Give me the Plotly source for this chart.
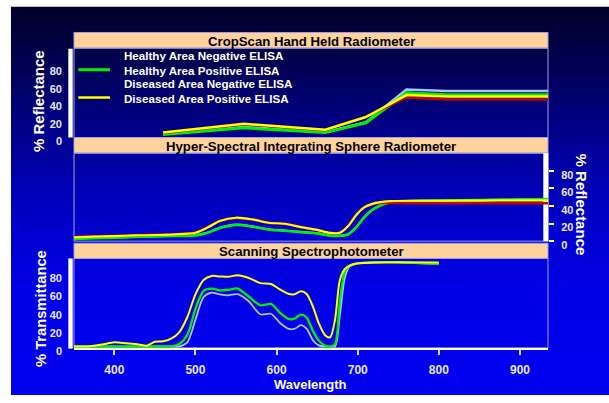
import plotly.graph_objects as go

W, H = 609, 403

# ---------------- data ----------------
# Panel 1: CropScan Hand Held Radiometer (% reflectance)
cropscan_wl = [460, 560, 660, 710, 760, 810, 950]
cropscan_healthy_neg = [4.0, 12.0, 6.0, 17.5, 54.8, 53.0, 53.0]
cropscan_healthy_pos = [3.4, 11.0, 5.6, 16.8, 51.0, 48.6, 48.6]
cropscan_diseased_neg = [5.0, 15.0, 8.3, 23.5, 45.6, 43.3, 43.3]
cropscan_diseased_pos = [5.6, 15.6, 8.8, 23.3, 48.3, 46.7, 46.7]

# Panel 2: Hyper-Spectral Integrating Sphere Radiometer (% reflectance)
hyper_wl = [350, 375, 400, 425, 450, 475, 500, 515, 530, 550, 570, 590, 610, 630,
            650, 665, 678, 688, 698, 708, 718, 728, 740, 760, 800, 850, 900, 935]
hyper_healthy_neg = [3.0, 3.7, 4.4, 5.0, 5.6, 6.2, 6.9, 9.9, 15.4, 18.9, 16.9, 13.6, 12.2, 10.6,
                     9.1, 6.7, 6.4, 7.9, 15.9, 27.4, 35.9, 40.9, 44.4, 45.8, 46.4, 46.9, 47.4, 47.8]
hyper_healthy_pos = [2.6, 3.3, 4.0, 4.6, 5.2, 5.8, 6.5, 9.5, 15.0, 18.5, 16.5, 13.2, 11.8, 10.2,
                     8.7, 6.3, 6.0, 7.5, 15.5, 27.0, 35.5, 40.5, 44.0, 45.5, 46.2, 46.8, 47.5, 48.0]
hyper_diseased_neg = [4.8, 5.6, 6.2, 6.8, 7.2, 8.0, 9.8, 16.0, 23.0, 26.5, 24.6, 21.0, 19.8, 16.0,
                      12.8, 9.5, 9.8, 17.5, 30.0, 38.5, 42.0, 43.5, 43.5, 43.3, 43.2, 43.2, 43.3, 43.3]
hyper_diseased_pos = [4.4, 5.2, 5.8, 6.5, 7.0, 7.8, 9.6, 15.5, 23.0, 26.7, 24.8, 21.0, 19.8, 16.0,
                      12.8, 9.5, 9.5, 17.0, 29.5, 38.5, 42.5, 44.5, 45.5, 46.0, 46.0, 46.2, 46.5, 46.5]

# Panel 3: Scanning Spectrophotometer (% transmittance)
spec_wl = [350, 370, 385, 400, 415, 430, 440, 450, 460, 470, 480, 490, 500, 510, 520, 530,
           540, 552, 565, 580, 593, 605, 615, 622, 630, 637, 645, 652, 660, 666, 672, 678,
           684, 690, 700, 720, 750, 800]
spec_healthy_neg = [0.2, 0.2, 0.2, 0.2, 0.2, 0.2, 0.2, 0.2, 0.2, 0.2, 0.3, 5.0, 30.0, 55.0, 60.0, 58.0,
                    57.0, 58.3, 51.0, 36.0, 36.6, 25.8, 19.8, 19.8, 24.0, 20.0, 7.0, 1.5, 0.2, 0.2, 0.3, 35.0,
                    76.0, 89.0, 92.5, 93.5, 93.6, 92.0]
spec_healthy_pos = [0.3, 0.3, 0.3, 0.3, 0.3, 0.3, 0.3, 0.3, 0.3, 0.5, 3.0, 13.0, 42.0, 62.0, 64.5, 62.5,
                    63.0, 64.5, 56.0, 46.0, 47.5, 37.0, 30.8, 31.2, 35.6, 32.5, 17.0, 7.0, 1.0, 0.2, 3.0, 50.0,
                    83.0, 90.0, 92.3, 93.5, 93.6, 91.8]
spec_diseased_pos = [0.3, 0.5, 2.5, 5.0, 3.8, 2.5, 1.2, 5.5, 6.0, 9.0, 16.0, 33.0, 58.0, 74.0, 78.5, 78.0,
                     77.5, 79.2, 76.5, 70.5, 69.5, 63.0, 58.5, 58.3, 61.5, 58.5, 44.0, 26.0, 12.5, 10.5, 30.0, 74.0,
                     86.0, 90.0, 92.5, 93.3, 93.6, 93.3]

series_names = ["Healthy Area Negative ELISA", "Healthy Area Positive ELISA",
                "Diseased Area Negative ELISA", "Diseased Area Positive ELISA"]
reflect_ticks = [0, 20, 40, 60, 80]
wl_ticks = [400, 500, 600, 700, 800, 900]

# ---------------- style ----------------
FONT = "Liberation Sans, Arial, sans-serif"
C_HN = "#a8c4ff"
C_HP = "#00f000"
C_DN = "#c80000"
C_DP = "#ffff00"
PEACH = "#ffd39b"
BORDER = "rgb(160,160,225)"


def px(x):
    return x / W


def py(y):
    return 1 - y / H


XL, XR = 74, 548
P1 = (49.3, 141.0)
P2 = (157.0, 247.3)
P3 = (265.0, 356.7)
XRANGE = [350.3, 934.5]

fig = go.Figure()


def add(x, y, color, width, xa, ya, name, smooth=True):
    fig.add_trace(go.Scatter(
        x=x, y=y, mode="lines", name=name, showlegend=False,
        line=dict(color=color, width=width,
                  shape="spline" if smooth else "linear",
                  smoothing=0.8 if smooth else None),
        xaxis=xa, yaxis=ya, hoverinfo="skip"))


# panel 1
add(cropscan_wl, cropscan_healthy_neg, C_HN, 2.5, "x", "y", series_names[0], False)
add(cropscan_wl, cropscan_healthy_pos, C_HP, 3, "x", "y", series_names[1], False)
add(cropscan_wl, cropscan_diseased_neg, C_DN, 2.5, "x", "y", series_names[2], False)
add(cropscan_wl, cropscan_diseased_pos, C_DP, 2.5, "x", "y", series_names[3], False)
# panel 2
add(hyper_wl, hyper_healthy_neg, C_HN, 2, "x2", "y2", series_names[0])
add(hyper_wl, hyper_healthy_pos, C_HP, 2.5, "x2", "y2", series_names[1])
add(hyper_wl, hyper_diseased_neg, C_DN, 2.5, "x2", "y2", series_names[2])
add(hyper_wl, hyper_diseased_pos, C_DP, 2.2, "x2", "y2", series_names[3])
# panel 3
add(spec_wl, spec_healthy_neg, C_HN, 1.8, "x3", "y3", series_names[0])
add(spec_wl, spec_healthy_pos, C_HP, 2.3, "x3", "y3", series_names[1])
add(spec_wl, spec_diseased_pos, C_DP, 2, "x3", "y3", series_names[3])

shapes = []
# gradient background
stops = [(7, 40), (60, 78), (120, 128), (180, 172), (240, 208), (300, 230), (403, 240)]


def blue_at(y):
    for (y0, b0), (y1, b1) in zip(stops[:-1], stops[1:]):
        if y0 <= y <= y1:
            return b0 + (b1 - b0) * (y - y0) / (y1 - y0)
    return stops[-1][1]


y = 7
step = 3
while y < 403:
    b = int(round(blue_at(y + step / 2)))
    shapes.append(dict(type="rect", xref="paper", yref="paper", layer="below",
                       x0=px(11), x1=1.01, y0=py(min(y + step + 2, 405)), y1=py(y),
                       fillcolor=f"rgb(0,0,{b})", line=dict(width=0)))
    y += step

# title bars
for (t0, t1) in [(33.3, 49.3), (141.0, 157.0), (249.5, 265.0)]:
    shapes.append(dict(type="rect", xref="paper", yref="paper", layer="below",
                       x0=px(XL), x1=px(XR), y0=py(t1), y1=py(t0),
                       fillcolor=PEACH, line=dict(color=BORDER, width=1)))
# plot borders
for (t0, t1) in [P1, P2, P3]:
    shapes.append(dict(type="rect", xref="paper", yref="paper", layer="below",
                       x0=px(XL), x1=px(XR), y0=py(t1), y1=py(t0),
                       fillcolor="rgba(0,0,0,0)", line=dict(color=BORDER, width=1)))
# white axis bars
shapes.append(dict(type="rect", xref="paper", yref="paper", layer="below",
                   x0=px(68.3), x1=px(72.7), y0=py(P1[1]), y1=py(P1[0] + 0.7),
                   fillcolor="white", line=dict(width=0)))
shapes.append(dict(type="rect", xref="paper", yref="paper", layer="below",
                   x0=px(68.3), x1=px(72.7), y0=py(P3[1] + 0.8), y1=py(P3[0]),
                   fillcolor="white", line=dict(width=0)))
shapes.append(dict(type="rect", xref="paper", yref="paper", layer="below",
                   x0=px(543.3), x1=px(548.3), y0=py(P2[1]), y1=py(P2[0]),
                   fillcolor="white", line=dict(width=0)))
# legend swatches
shapes.append(dict(type="line", xref="paper", yref="paper",
                   x0=px(78.3), x1=px(110), y0=py(71.5), y1=py(71.5),
                   line=dict(color=C_HP, width=3)))
shapes.append(dict(type="line", xref="paper", yref="paper",
                   x0=px(78.3), x1=px(110), y0=py(100), y1=py(100),
                   line=dict(color=C_DP, width=2.5)))

ann = []
for txt, yc in [("CropScan Hand Held Radiometer", 42.8),
                ("Hyper-Spectral Integrating Sphere Radiometer", 150.6),
                ("Scanning Spectrophotometer", 258.3)]:
    ann.append(dict(text=f"<b>{txt}</b>", x=px(311), y=py(yc), xref="paper", yref="paper",
                    xanchor="center", yanchor="middle", showarrow=False,
                    font=dict(family=FONT, size=13.2, color="black")))
for txt, yc in zip(series_names, [57.3, 72.0, 85.7, 100.8]):
    ann.append(dict(text=f"<b>{txt}</b>", x=px(122.3), y=py(yc), xref="paper", yref="paper",
                    xanchor="left", yanchor="middle", showarrow=False,
                    font=dict(family=FONT, size=11.6, color="white")))
ann.append(dict(text="<b>% Reflectance</b>", x=px(38.3), y=py(103.3), xref="paper", yref="paper",
                xanchor="center", yanchor="middle", showarrow=False, textangle=-90,
                font=dict(family=FONT, size=15, color="white")))
ann.append(dict(text="<b>% Transmittance</b>", x=px(40.8), y=py(316), xref="paper", yref="paper",
                xanchor="center", yanchor="middle", showarrow=False, textangle=-90,
                font=dict(family=FONT, size=14.7, color="white")))
ann.append(dict(text="<b>% Reflectance</b>", x=px(581.7), y=py(209.5), xref="paper", yref="paper",
                xanchor="center", yanchor="middle", showarrow=False, textangle=90,
                font=dict(family=FONT, size=15, color="white")))
ann.append(dict(text="<b>Wavelength</b>", x=px(310.5), y=py(394), xref="paper", yref="paper",
                xanchor="center", yanchor="middle", showarrow=False,
                font=dict(family=FONT, size=13, color="white")))

tickfont_y = dict(family=FONT, size=11, color="#e8e8ff", weight="bold")
tickfont_x = dict(family=FONT, size=12, color="#e8e8ff", weight="bold")

xdom = [px(XL), px(XR)]
base_x = dict(domain=xdom, range=XRANGE, showgrid=False, zeroline=False, fixedrange=True)

fig.update_layout(
    width=W, height=H,
    margin=dict(l=0, r=0, t=0, b=0, pad=0),
    paper_bgcolor="white", plot_bgcolor="rgba(0,0,0,0)",
    showlegend=False,
    shapes=shapes, annotations=ann,
    xaxis=dict(**base_x, anchor="y", showticklabels=False, ticks="", showline=False),
    xaxis2=dict(**base_x, anchor="y2", showticklabels=False, ticks="", showline=False),
    xaxis3=dict(**base_x, anchor="y3", tickvals=wl_ticks, ticks="outside", ticklen=5,
                tickwidth=1.5, tickcolor="#d8d8ff", tickfont=tickfont_x,
                showline=True, linecolor="white", linewidth=2, ticklabelstandoff=5),
    yaxis=dict(domain=[py(P1[1]), py(P1[0])], range=[0, 101.9], anchor="x",
               tickvals=reflect_ticks, ticks="", tickfont=tickfont_y, ticklabelstandoff=11,
               ticklabelshift=4, showgrid=False, zeroline=False, showline=False),
    yaxis2=dict(domain=[py(P2[1]), py(P2[0])], range=[0, 100.3], anchor="x2", side="right",
                tickvals=reflect_ticks, ticks="outside", ticklen=5, tickwidth=1.5,
                tickcolor="white", tickfont=tickfont_y, ticklabelstandoff=5,
                ticklabelshift=4, showgrid=False, zeroline=False, showline=False),
    yaxis3=dict(domain=[py(P3[1]), py(P3[0])], range=[-1.2, 97.9], anchor="x3",
                tickvals=reflect_ticks, ticks="", tickfont=tickfont_y, ticklabelstandoff=11,
                ticklabelshift=4, showgrid=False, zeroline=False, showline=False),
)

# the figure is exactly the size of the window: drop the page's default body margin
fig.write_html(
    "out.html",
    config={"displayModeBar": False},
    post_script="document.body.style.margin='0';"
                "document.documentElement.style.overflow='hidden';"
                "document.body.style.overflow='hidden';",
)
